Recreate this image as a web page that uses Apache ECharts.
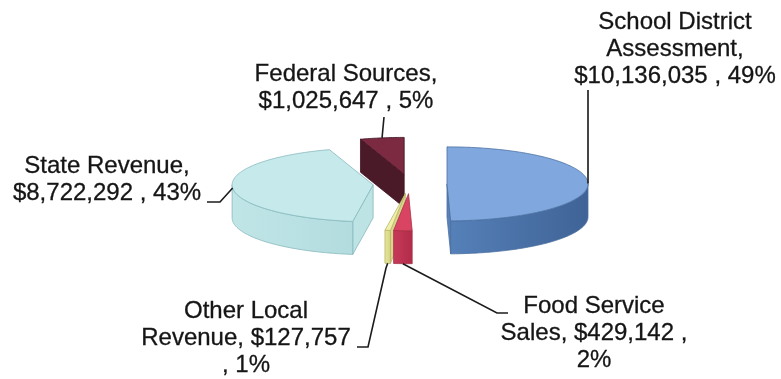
<!DOCTYPE html>
<html>
<head>
<meta charset="utf-8">
<script src="https://cdn.jsdelivr.net/npm/echarts@6/dist/echarts.min.js"></script>
<style>
  html, body { margin: 0; padding: 0; background: #ffffff; }
  #chart { width: 781px; height: 379px; }
</style>
</head>
<body>
<div id="chart"></div>
<script>
// Revenue sources, clockwise from 12 o'clock
const categories = ['School District Assessment', 'Food Service Sales', 'Other Local Revenue', 'State Revenue', 'Federal Sources'];
const values = [10136035, 429142, 127757, 8722292, 1025647];
const percentLabels = ['49%', '2%', '1%', '43%', '5%'];
// label wording with line breaks; {v} = amount, {p} = percent
const labelTemplates = [
  'School District\nAssessment,\n{v} , {p}',
  'Food Service\nSales, {v} ,\n{p}',
  'Other Local\nRevenue, {v}\n, {p}',
  'State Revenue,\n{v} , {p}',
  'Federal Sources,\n{v} , {p}'
];

// pie geometry (pixels)
const CX = 410, CY = 184, RX = 141, RY = 37, DEPTH = 33, EXPLODE = 37;
const RAD = Math.PI / 180;

// slice colours: top face, outer wall, cut face, outline
const palette = [
  { top: '#80a8de', wall: ['#5580b8', '#3f6396'], cut: '#5a82b8', line: '#4a6f9f' },
  { top: '#d94462', wall: ['#c8395a', '#b02c48'], cut: '#a82a45', line: '#a83048' },
  { top: '#f1f0a8', wall: ['#e8e69a', '#d6d384'], cut: '#d8d68a', line: '#b9b66a' },
  { top: '#c6eaeb', wall: ['#c0e5e7', '#b3dcdf'], cut: '#bde3e5', line: '#86b8bd' },
  { top: '#7b2a42', wall: ['#5a1e30', '#4a1828'], cut: '#4b1a29', line: '#3e1220' }
];

// label placement: centre x, top of text block, leader path from label towards the slice
const labelLayout = [
  { x: 675, y: 9,   leader: [[588, 90]] },
  { x: 594, y: 293, leader: [[508, 313], [497, 313]] },
  { x: 246, y: 298, leader: [[357, 347], [368, 347], [386, 268]] },
  { x: 107, y: 153, leader: [[207, 202], [220, 202]] },
  { x: 346, y: 61,  leader: [[384, 117]] }
];

const total = values.reduce((s, v) => s + v, 0);
const startDeg = [];
values.reduce((acc, v) => { startDeg.push(acc / total * 360); return acc + v; }, 0);

function fmtMoney(v) {
  return '$' + String(v).replace(/\B(?=(\d{3})+(?!\d))/g, ',');
}

function rim(cx, cy, deg, dy) {
  const t = deg * RAD;
  return [cx + RX * Math.sin(t), cy - RY * Math.cos(t) + (dy || 0)];
}

function arc(cx, cy, a, b, dy) {
  const n = Math.max(2, Math.ceil(Math.abs(b - a)));
  const pts = [];
  for (let k = 0; k <= n; k++) pts.push(rim(cx, cy, a + (b - a) * k / n, dy));
  return pts;
}

function poly(points, fill, stroke, z2) {
  return {
    type: 'polygon',
    z2: z2,
    shape: { points: points },
    style: { fill: fill, stroke: stroke, lineWidth: 0.8 }
  };
}

function renderSlice(params, api) {
  const i = params.dataIndex;
  const v = api.value(0);
  const a = startDeg[i];
  const b = a + v / total * 360;
  const mid = (a + b) / 2;
  const m = mid * RAD;
  const cx = CX + EXPLODE * Math.sin(m);
  const cy = CY - EXPLODE * (RY / RX) * Math.cos(m);
  const c = palette[i];
  const zBase = Math.round(-Math.cos(m) * 100) * 10 + 2000;
  const children = [];

  // cut face at the starting edge
  if (Math.sin(a * RAD) < -1e-6) {
    children.push(poly([[cx, cy], rim(cx, cy, a), rim(cx, cy, a, DEPTH), [cx, cy + DEPTH]], c.cut, c.line, zBase + 1));
  }
  // cut face at the closing edge
  if (Math.sin(b * RAD) > 1e-6) {
    children.push(poly([[cx, cy], rim(cx, cy, b), rim(cx, cy, b, DEPTH), [cx, cy + DEPTH]], c.cut, c.line, zBase + 1));
  }
  // front part of the outer wall
  const s = Math.max(a, 90), e = Math.min(b, 270);
  if (e > s) {
    const pts = arc(cx, cy, s, e).concat(arc(cx, cy, e, s, DEPTH));
    children.push(poly(pts, {
      type: 'linear', x: 0, y: 0, x2: 1, y2: 0,
      colorStops: [{ offset: 0, color: c.wall[0] }, { offset: 1, color: c.wall[1] }]
    }, c.line, zBase + 2));
  }
  // top face
  children.push(poly([[cx, cy]].concat(arc(cx, cy, a, b)), c.top, c.line, zBase + 3));

  // leader line: attaches to the rim top, or to the wall foot for slices facing front
  const front = mid > 135 && mid < 225;
  const anchor = rim(cx, cy, mid, front ? DEPTH : 0);
  const lay = labelLayout[i];
  children.push({
    type: 'polyline',
    z2: 9000,
    shape: { points: lay.leader.concat([anchor]) },
    style: { stroke: '#1c1c1c', lineWidth: 1.6, fill: null }
  });
  // label text
  const text = labelTemplates[i].replace('{v}', fmtMoney(v)).replace('{p}', percentLabels[i]);
  children.push({
    type: 'text',
    z2: 9001,
    x: lay.x,
    y: lay.y,
    style: {
      text: text,
      fill: '#151515',
      stroke: '#151515',
      lineWidth: 0.3,
      fontSize: 24,
      fontFamily: '"Liberation Sans", Arial, sans-serif',
      lineHeight: 27,
      align: 'center',
      verticalAlign: 'top'
    }
  });

  return { type: 'group', children: children };
}

const chart = echarts.init(document.getElementById('chart'), null, { renderer: 'canvas' });
chart.setOption({
  animation: false,
  backgroundColor: '#ffffff',
  series: [{
    type: 'custom',
    name: 'Revenue',
    coordinateSystem: 'none',
    renderItem: renderSlice,
    data: values.map((v, i) => ({ name: categories[i], value: [v] }))
  }]
});
</script>
</body>
</html>
